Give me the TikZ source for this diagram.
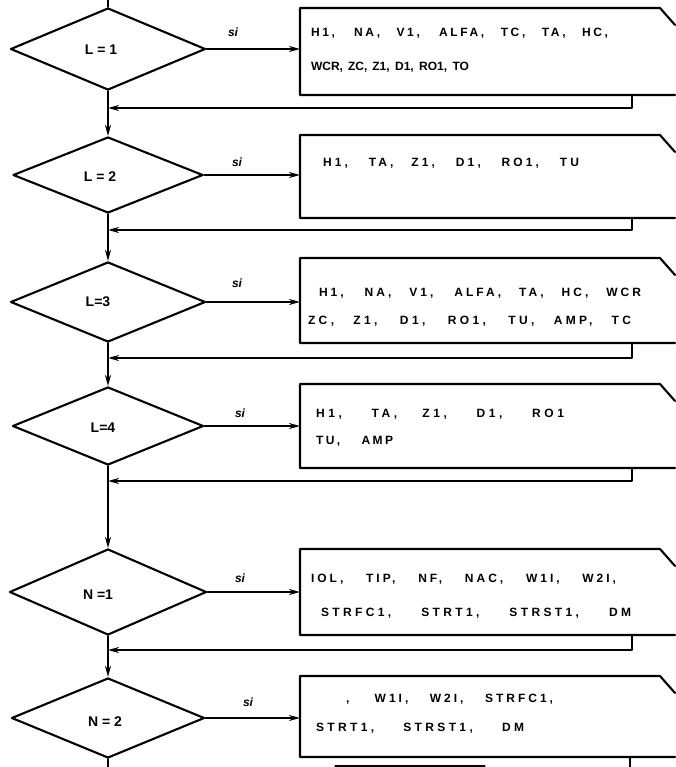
\documentclass[tikz,border=0pt]{standalone}
\usepackage{fontspec}
\setmainfont{Liberation Sans}
\usetikzlibrary{shapes.geometric,arrows.meta}
\newcommand\trk[3]{{\addfontfeature{LetterSpace=#1}\makebox[#2pt][s]{#3}}}
\begin{document}
\begin{tikzpicture}[x=1pt,y=-1pt, line width=2.1pt, line cap=round, line join=round,
  dia/.style={draw, diamond, inner sep=0pt},
  dlab/.style={inner sep=0pt, font=\fontsize{14}{16}\selectfont\bfseries},
  arr/.style={-{Stealth[length=11pt,width=6pt]}},
  boxtxt/.style={anchor=base west, inner sep=0pt, font=\fontsize{12}{14}\selectfont\bfseries},
  silab/.style={inner sep=0pt, font=\fontsize{12}{14}\selectfont\bfseries\itshape}]
\useasboundingbox (0,0) rectangle (675,767);

% diamonds
\node[dia, minimum width=195pt, minimum height=82pt] (d1) at (108,49) {};
\node[dia, minimum width=190pt, minimum height=76pt] (d2) at (108,175) {};
\node[dia, minimum width=195pt, minimum height=80pt] (d3) at (108,302) {};
\node[dia, minimum width=191pt, minimum height=78pt] (d4) at (108,426) {};
\node[dia, minimum width=197pt, minimum height=86pt] (d5) at (108,592) {};
\node[dia, minimum width=193pt, minimum height=80pt] (d6) at (108,718) {};

\node[dlab] (l1) at (101,50) {L = 1};
\node[dlab] (l2) at (100,177) {L = 2};
\node[dlab] (l3) at (98,302) {L=3};
\node[dlab] (l4) at (103,428) {L=4};
\node[dlab] (l5) at (98,595) {N =1};
\node[dlab] (l6) at (105,722) {N = 2};

% main line
\coordinate (top) at (108,0);
\coordinate (bot) at (108,767);
\draw (top) -- (d1.north);
\draw[arr] (d1.south) -- (d2.north);
\draw[arr] (d2.south) -- (d3.north);
\draw[arr] (d3.south) -- (d4.north);
\draw[arr] (d4.south) -- (d5.north);
\draw[arr] (d5.south) -- (d6.north);
\draw (d6.south) -- (bot);

% boxes: bottom-left and top-left corners
\coordinate (b1) at (300,95);  \coordinate (t1) at (300,8);
\coordinate (b2) at (300,218); \coordinate (t2) at (300,135);
\coordinate (b3) at (300,343); \coordinate (t3) at (300,258);
\coordinate (b4) at (300,468); \coordinate (t4) at (300,384);
\coordinate (b5) at (300,635); \coordinate (t5) at (300,549);
\coordinate (b6) at (300,757); \coordinate (t6) at (300,676);
\foreach \i in {1,...,6}{
  \draw (b\i -| 675,0) -- (b\i) -- (t\i) -- (t\i -| 660,0) -- ++(15,17);
}

% si arrows
\draw[arr] (d1.east) -- (d1.east -| t1);
\draw[arr] (d2.east) -- (d2.east -| t2);
\draw[arr] (d3.east) -- (d3.east -| t3);
\draw[arr] (d4.east) -- (d4.east -| t4);
\draw[arr] (d5.east) -- (d5.east -| t5);
\draw[arr] (d6.east) -- (d6.east -| t6);
\node[silab] (s1) at (233,32) {si};
\node[silab] (s2) at (237,162) {si};
\node[silab] (s3) at (237,283) {si};
\node[silab] (s4) at (240,413) {si};
\node[silab] (s5) at (240,578) {si};
\node[silab] (s6) at (248,702) {si};

% return lines
\coordinate (r1) at (632,108);
\coordinate (r2) at (632,230);
\coordinate (r3) at (632,358);
\coordinate (r4) at (632,481);
\coordinate (r5) at (632,650);
\draw[arr] (b1 -| r1) -- (r1) -- (r1 -| d1.south);
\draw[arr] (b2 -| r2) -- (r2) -- (r2 -| d2.south);
\draw[arr] (b3 -| r3) -- (r3) -- (r3 -| d3.south);
\draw[arr] (b4 -| r4) -- (r4) -- (r4 -| d4.south);
\draw[arr] (b5 -| r5) -- (r5) -- (r5 -| d5.south);
\coordinate (r6) at (630,767);
\draw (b6 -| r6) -- (r6);
\draw[line width=1.2pt] (335,766) -- (485,766);

% box texts
\node[boxtxt] (x1a) at (310,37) {\trk{22}{297}{H1, NA, V1, ALFA, TC, TA, HC,}};
\node[boxtxt] (x1b) at (310,71) {\trk{0}{158}{WCR, ZC, Z1, D1, RO1, TO}};
\node[boxtxt] (x2a) at (322,167) {\trk{26}{256}{H1, TA, Z1, D1, RO1, TU}};
\node[boxtxt] (x3a) at (318,296) {\trk{25}{322}{H1, NA, V1, ALFA, TA, HC, WCR}};
\node[boxtxt] (x3b) at (307,324) {\trk{28}{323}{ZC, Z1, D1, RO1, TU, AMP, TC}};
\node[boxtxt] (x4a) at (315,417) {\trk{30}{248}{H1, TA, Z1, D1, RO1}};
\node[boxtxt] (x4b) at (315,444) {\trk{20}{77}{TU, AMP}};
\node[boxtxt] (x5a) at (310,582) {\trk{25}{305}{IOL, TIP, NF, NAC, W1I, W2I,}};
\node[boxtxt] (x5b) at (320,616) {\trk{28}{310}{STRFC1, STRT1, STRST1, DM}};
\node[boxtxt] (x6a) at (345,702) {\trk{25}{207}{, W1I, W2I, STRFC1,}};
\node[boxtxt] (x6b) at (315,731) {\trk{28}{208}{STRT1, STRST1, DM}};
\end{tikzpicture}
\end{document}
